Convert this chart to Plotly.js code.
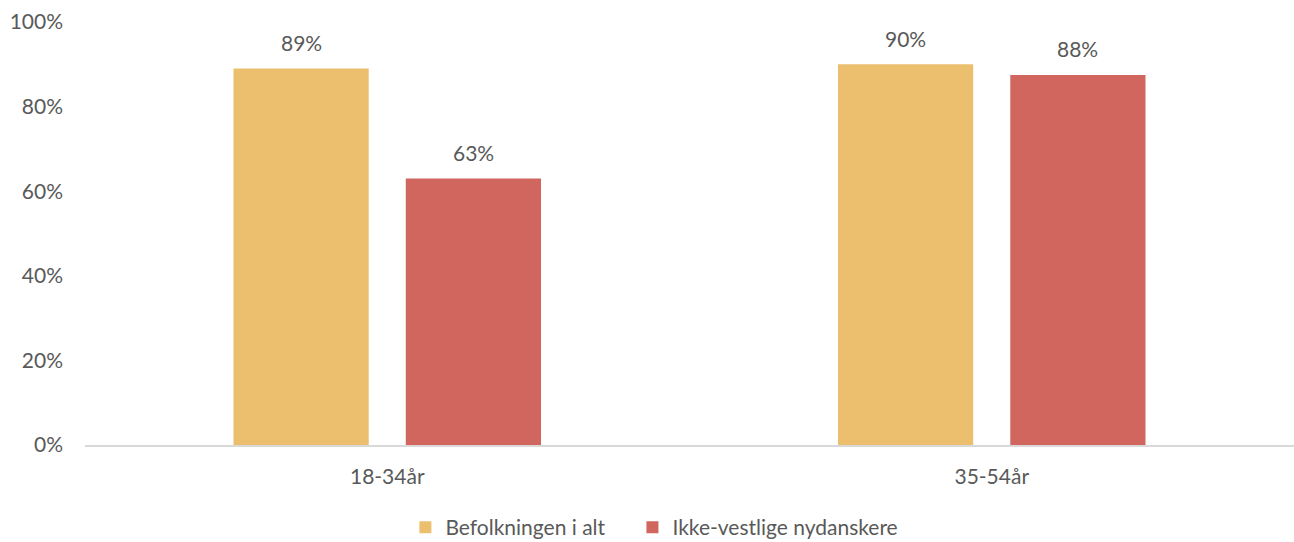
<!DOCTYPE html>
<html>
<head>
<meta charset="utf-8">
<script src="https://cdn.plot.ly/plotly-3.0.1.min.js"></script>
<style>html,body{margin:0;padding:0;background:#fff;}#chart{width:1294px;height:542px;}</style>
</head>
<body>
<div id="chart"></div>
<script>
const categories = ["18-34år", "35-54år"];
const seriesNames = ["Befolkningen i alt", "Ikke-vestlige nydanskere"];
const befolkning = [89, 90];
const nydanskere = [63, 87.5];
const labelsBefolkning = ["89%", "90%"];
const labelsNydanskere = ["63%", "88%"];
const yTicks = [0, 20, 40, 60, 80, 100];
const yTickLabels = ["0%", "20%", "40%", "60%", "80%", "100%"];

const colors = ["#EBBF6E", "#D1665E"];
const font = {family: "Lato, 'Open Sans', sans-serif", size: 21, color: "#595959"};

const traces = [
  {type: "bar", name: seriesNames[0], x: categories, y: befolkning, marker: {color: colors[0]}, hoverinfo: "none", legend: "legend"},
  {type: "bar", name: seriesNames[1], x: categories, y: nydanskere, marker: {color: colors[1]}, hoverinfo: "none", legend: "legend2"}
];

const annotations = [];
[[befolkning, labelsBefolkning, -86], [nydanskere, labelsNydanskere, 86]].forEach(([vals, labs, shift]) => {
  vals.forEach((v, i) => {
    annotations.push({x: categories[i], y: v, text: labs[i], showarrow: false, xshift: shift, yshift: 26,
      xref: "x", yref: "y", font: font});
  });
});

const legendBase = {orientation: "h", xanchor: "left", y: -0.195, yanchor: "middle", font: font, itemwidth: 30};

const layout = {
  width: 1294, height: 542,
  margin: {l: 85, r: 0, t: 22, b: 97, autoexpand: false},
  paper_bgcolor: "#fff", plot_bgcolor: "#fff",
  font: font,
  barmode: "group", bargap: 0.43, bargroupgap: 0.215,
  xaxis: {type: "category", showgrid: false, zeroline: false, showline: true, linecolor: "#D9D9D9", linewidth: 1.5,
    ticks: "", ticklabelstandoff: 12, tickfont: font, automargin: false},
  yaxis: {range: [0, 100], tickvals: yTicks, ticktext: yTickLabels, showgrid: false, zeroline: false, showline: false,
    ticks: "", ticklabelstandoff: 21, tickfont: font, automargin: false},
  showlegend: true,
  legend: Object.assign({}, legendBase, {x: 0.265}),
  legend2: Object.assign({}, legendBase, {x: 0.4528}),
  annotations: annotations
};

Plotly.newPlot("chart", traces, layout, {displayModeBar: false, staticPlot: true});
</script>
</body>
</html>
